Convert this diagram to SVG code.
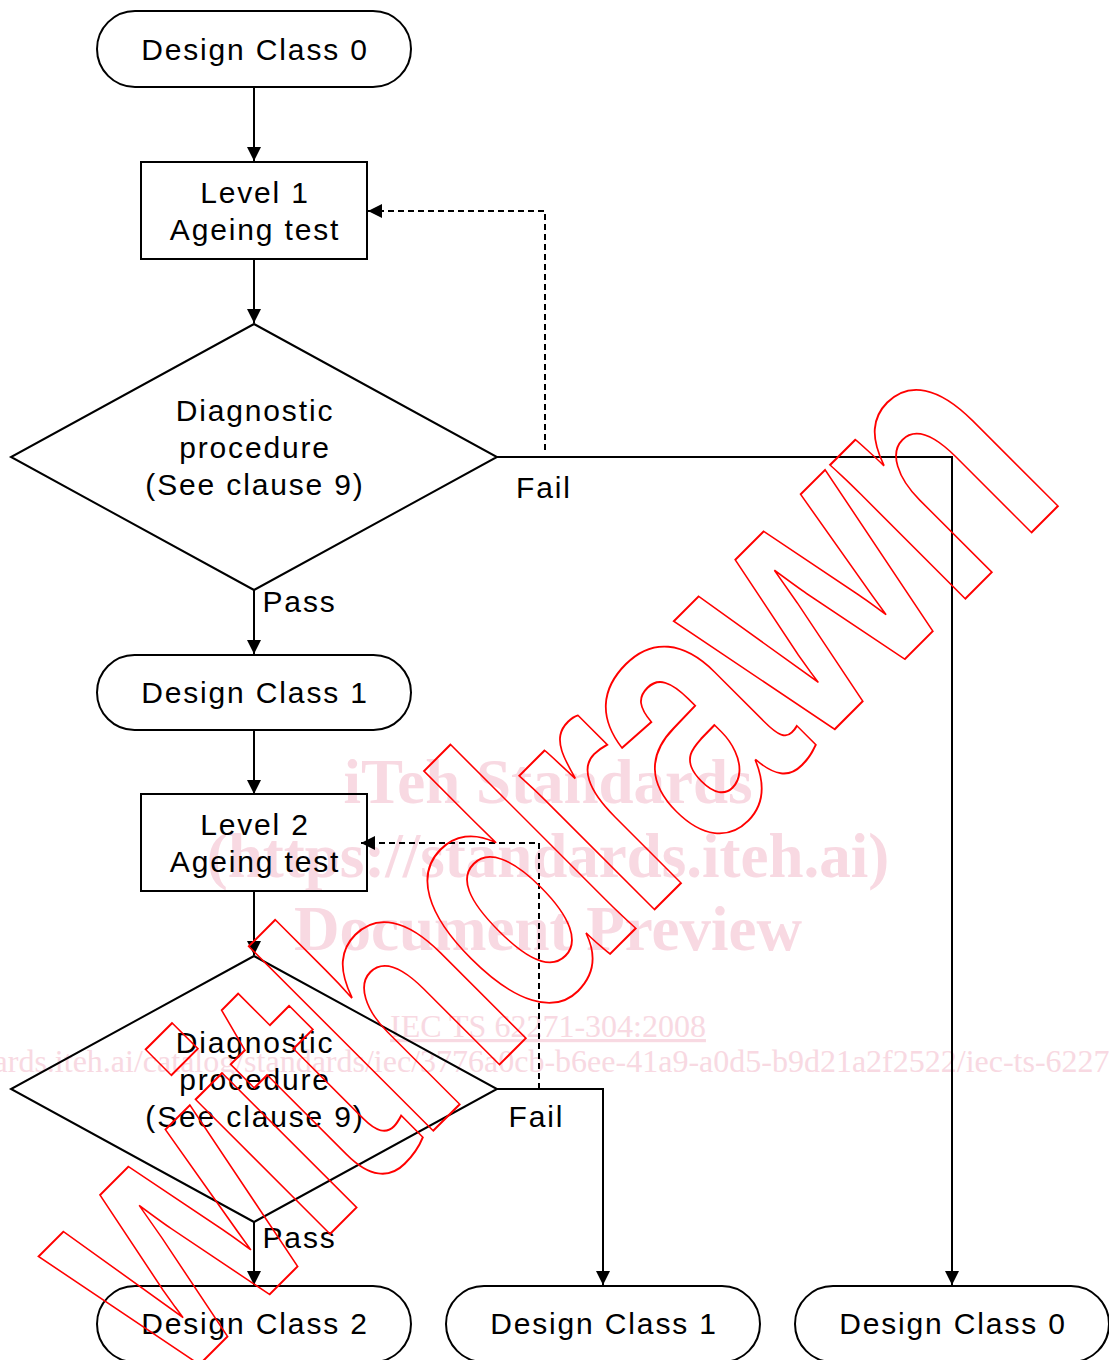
<svg xmlns="http://www.w3.org/2000/svg" width="1109" height="1360" viewBox="0 0 1109 1360">
<style>
  .t { font-family: "Liberation Sans", Arial, sans-serif; font-size: 30px; letter-spacing: 1.85px; fill: #000; }
  .c { text-anchor: middle; }
  .shape { fill: none; stroke: #000; stroke-width: 2; }
  .conn path { fill: none; stroke: #000; stroke-width: 2; }
  .conn .dash { stroke-dasharray: 6 4; }
  .wm { font-family: "Liberation Serif", "Times New Roman", serif; fill: #f8d9e2; text-anchor: middle; }
  .wmb { font-weight: bold; font-size: 63px; }
  .wms { font-size: 32px; }
  .wd { font-family: "Liberation Sans", Arial, sans-serif; font-weight: bold; font-size: 360px; letter-spacing: -14px; fill: none; stroke: #ff0000; stroke-width: 1.8; text-anchor: middle; }
</style>
<defs>
  <marker id="ah" markerUnits="userSpaceOnUse" markerWidth="14" markerHeight="14" refX="14" refY="7" orient="auto" viewBox="0 0 14 14">
    <path d="M0,0 L14,7 L0,14 z" fill="#000"/>
  </marker>
</defs>
<rect width="1109" height="1360" fill="#fff"/>

<g id="watermark-text">
  <text class="wm wmb" x="548" y="803">iTeh Standards</text>
  <text class="wm wmb" x="548" y="877">(https://standards.iteh.ai)</text>
  <text class="wm wmb" x="548" y="950">Document Preview</text>
  <text class="wm wms" x="548" y="1037" text-decoration="underline">IEC TS 62271-304:2008</text>
  <text class="wm wms" x="548" y="1072">https://standards.iteh.ai/catalog/standards/iec/3776a0cb-b6ee-41a9-a0d5-b9d21a2f2522/iec-ts-62271-304-2008</text>
</g>

<g id="connectors" class="conn">
  <path d="M254,87 V161" marker-end="url(#ah)"/>
  <path d="M254,259 V323" marker-end="url(#ah)"/>
  <path d="M254,590 V654" marker-end="url(#ah)"/>
  <path d="M254,730 V794" marker-end="url(#ah)"/>
  <path d="M254,891 V955" marker-end="url(#ah)"/>
  <path d="M254,1222 V1285" marker-end="url(#ah)"/>
  <path d="M497,457 H952 V1285" marker-end="url(#ah)"/>
  <path d="M497,1089 H603 V1285" marker-end="url(#ah)"/>
  <path class="dash" d="M545,450 V211 H368" marker-end="url(#ah)"/>
  <path class="dash" d="M539,1089 V843 H361" marker-end="url(#ah)"/>
</g>

<g id="start-dc0">
  <rect class="shape" x="97" y="11" width="314" height="76" rx="38"/>
  <text class="t c" x="255" y="60">Design Class 0</text>
</g>
<g id="level1">
  <rect class="shape" x="141" y="162" width="226" height="97"/>
  <text class="t c" x="255" y="203">Level 1</text>
  <text class="t c" x="255" y="239.5">Ageing test</text>
</g>
<g id="diag1">
  <polygon class="shape" points="254,324 497,457 254,590 11,457"/>
  <text class="t c" x="255" y="421">Diagnostic</text>
  <text class="t c" x="255" y="458">procedure</text>
  <text class="t c" x="255" y="495">(See clause 9)</text>
</g>
<g id="dc1">
  <rect class="shape" x="97" y="655" width="314" height="75" rx="37.5"/>
  <text class="t c" x="255" y="703">Design Class 1</text>
</g>
<g id="level2">
  <rect class="shape" x="141" y="794" width="226" height="97"/>
  <text class="t c" x="255" y="835">Level 2</text>
  <text class="t c" x="255" y="871.5">Ageing test</text>
</g>
<g id="diag2">
  <polygon class="shape" points="254,956 497,1089 254,1222 11,1089"/>
  <text class="t c" x="255" y="1053">Diagnostic</text>
  <text class="t c" x="255" y="1090">procedure</text>
  <text class="t c" x="255" y="1127">(See clause 9)</text>
</g>
<g id="dc2-bottom">
  <rect class="shape" x="97" y="1286" width="314" height="76" rx="38"/>
  <text class="t c" x="255" y="1334">Design Class 2</text>
</g>
<g id="dc1-bottom">
  <rect class="shape" x="446" y="1286" width="314" height="76" rx="38"/>
  <text class="t c" x="604" y="1334">Design Class 1</text>
</g>
<g id="dc0-bottom">
  <rect class="shape" x="795" y="1286" width="314" height="76" rx="38"/>
  <text class="t c" x="953" y="1334">Design Class 0</text>
</g>

<g id="labels">
  <text class="t" x="262.5" y="612">Pass</text>
  <text class="t" x="516" y="498">Fail</text>
  <text class="t" x="262.5" y="1248">Pass</text>
  <text class="t" x="508.5" y="1127">Fail</text>
</g>

<g id="withdrawn">
  <text class="wd" transform="translate(618,946) rotate(-45) scale(0.76,1)" x="0" y="0" vector-effect="non-scaling-stroke">withdrawn</text>
</g>
</svg>
